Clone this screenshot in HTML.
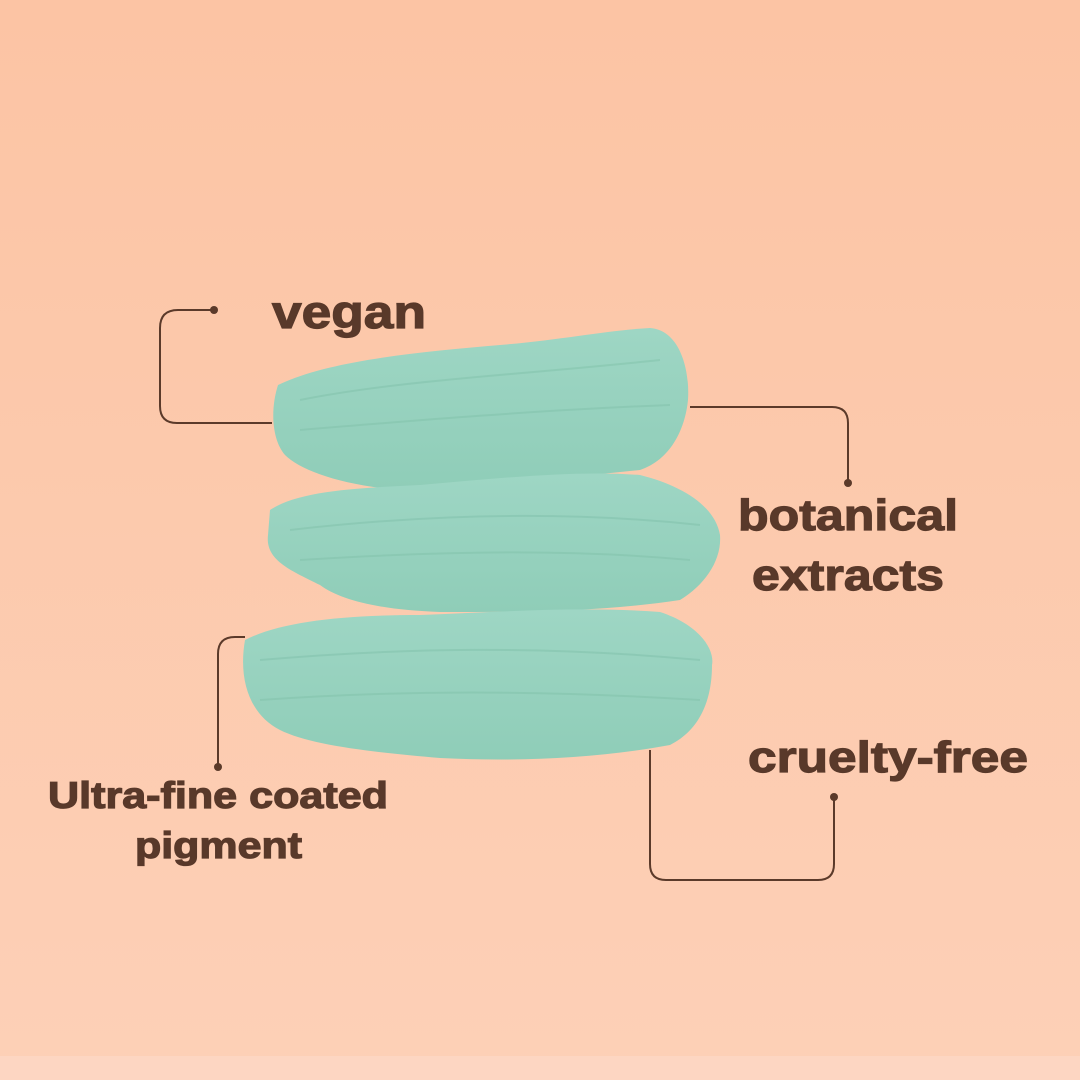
<!DOCTYPE html>
<html><head><meta charset="utf-8"><style>
html,body{margin:0;padding:0;width:1080px;height:1080px;overflow:hidden}
</style></head><body>
<svg width="1080" height="1080" viewBox="0 0 1080 1080" xmlns="http://www.w3.org/2000/svg">
<defs>
<linearGradient id="bg" x1="0" y1="0" x2="0" y2="1">
<stop offset="0" stop-color="#fcc4a4"/><stop offset="1" stop-color="#fdd0b7"/>
</linearGradient>
<linearGradient id="tg" x1="0" y1="0" x2="0" y2="1">
<stop offset="0" stop-color="#9ed6c4"/><stop offset="1" stop-color="#8fcdb8"/>
</linearGradient>
</defs>
<rect width="1080" height="1080" fill="url(#bg)"/>
<rect y="1056" width="1080" height="24" fill="#fdd6c2"/>
<path d="M278,385 C330,360 420,352 500,345 C560,340 610,330 650,328 C680,330 690,370 688,400 C685,430 670,460 640,470 C560,478 470,490 400,490 C340,485 300,470 285,455 C272,440 270,410 278,385 Z" fill="url(#tg)"/>
<path d="M270,510 C300,490 360,488 420,485 C500,478 580,470 640,475 C680,485 715,505 720,535 C722,560 705,585 680,600 C600,612 520,612 440,612 C380,610 340,600 320,585 C290,570 265,560 268,535 Z" fill="url(#tg)"/>
<path d="M245,640 C280,622 340,615 420,615 C500,612 580,606 660,612 C700,625 715,650 712,665 C712,700 700,730 670,745 C600,758 520,762 440,758 C370,752 310,745 280,730 C250,715 238,680 245,640 Z" fill="url(#tg)"/>
<g stroke="#85c4ae" stroke-width="2" fill="none" opacity="0.6">
<path d="M300,400 C400,380 520,375 660,360"/><path d="M300,430 C420,420 540,410 670,405"/>
<path d="M290,530 C420,515 560,510 700,525"/><path d="M300,560 C430,552 560,548 690,560"/>
<path d="M260,660 C400,648 540,645 700,660"/><path d="M260,700 C400,690 540,690 700,700"/>
</g>
<g stroke="#5b3a2a" stroke-width="2" fill="none">
<path d="M214,310 H178 Q160,310 160,328 V406 Q160,423 177,423 H272"/>
<path d="M690,407 H832 Q848,407 848,423 V483"/>
<path d="M245,637 H235 Q218,637 218,654 V767"/>
<path d="M650,750 V864 Q650,880 666,880 H818 Q834,880 834,864 V797"/>
</g>
<g fill="#5b3a2a">
<circle cx="214" cy="310" r="4"/><circle cx="848" cy="483" r="4"/>
<circle cx="218" cy="767" r="4"/><circle cx="834" cy="797" r="4"/>
</g>
<g fill="#59392a" stroke="#59392a" stroke-width="1.2" font-family="Liberation Sans, sans-serif" font-weight="bold">
<text x="272" y="328" font-size="46" textLength="154" lengthAdjust="spacingAndGlyphs">vegan</text>
<text x="738" y="530" font-size="44" textLength="220" lengthAdjust="spacingAndGlyphs">botanical</text>
<text x="752" y="590" font-size="44" textLength="192" lengthAdjust="spacingAndGlyphs">extracts</text>
<text x="748" y="772" font-size="44" textLength="280" lengthAdjust="spacingAndGlyphs">cruelty-free</text>
<text x="48" y="808" font-size="37" textLength="340" lengthAdjust="spacingAndGlyphs">Ultra-fine coated</text>
<text x="135" y="858" font-size="37" textLength="167" lengthAdjust="spacingAndGlyphs">pigment</text>
</g>
</svg>
</body></html>
